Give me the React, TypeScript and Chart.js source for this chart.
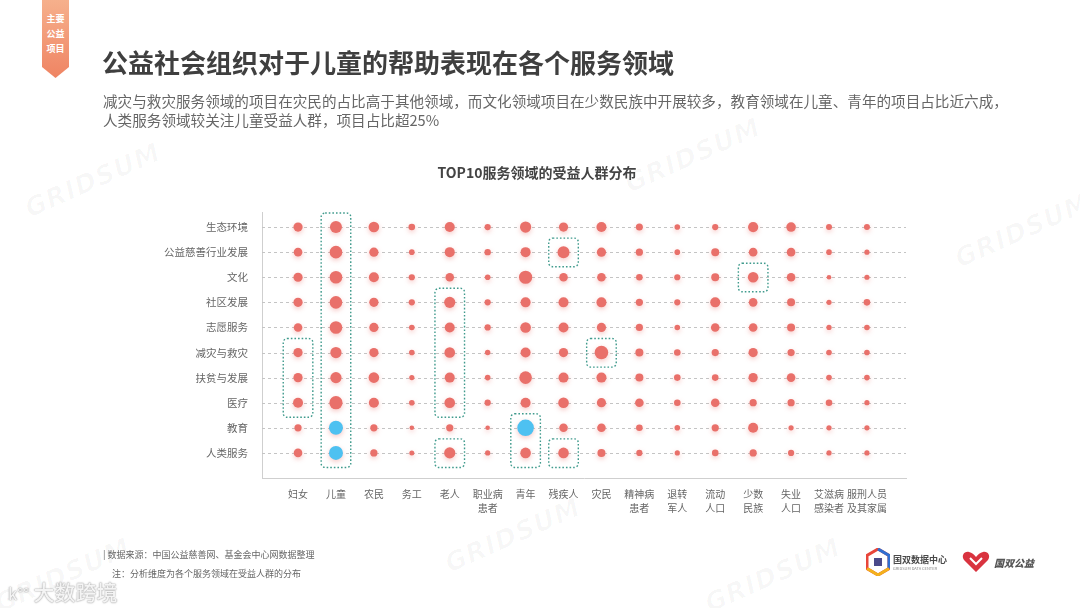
import React, { useEffect, useRef } from 'react';
import { Chart, registerables } from 'chart.js';

Chart.register(...registerables);

// ---- data ----
const services = ['生态环境', '公益慈善行业发展', '文化', '社区发展', '志愿服务', '减灾与救灾', '扶贫与发展', '医疗', '教育', '人类服务'];
const groups: string[][] = [
  ['妇女'], ['儿童'], ['农民'], ['务工'], ['老人'], ['职业病', '患者'], ['青年'], ['残疾人'],
  ['灾民'], ['精神病', '患者'], ['退转', '军人'], ['流动', '人口'], ['少数', '民族'], ['失业', '人口'],
  ['艾滋病', '感染者'], ['服刑人员', '及其家属'],
];
// share (%) of projects of each service field among beneficiary groups (estimated)
const shareEcology = [16.5, 23.5, 20, 10, 18.5, 9, 21.5, 16.5, 18.5, 11, 7.5, 9, 19, 17.5, 8.5, 8.5];
const sharePhilanthropy = [15, 25, 16.5, 7.5, 18.5, 9.5, 18.5, 23.5, 16.5, 11.5, 7.5, 13.5, 15, 15, 7.5, 6.5];
const shareCulture = [16.5, 25, 18.5, 9, 15, 7.5, 26.5, 15, 15, 10, 9, 13.5, 20, 15, 5, 6.5];
const shareCommunity = [16.5, 25, 16.5, 9, 21.5, 9, 18.5, 18.5, 18.5, 11.5, 9, 18.5, 15, 13.5, 6.5, 10];
const shareVolunteer = [15, 25, 16.5, 7.5, 18.5, 9, 20, 18.5, 16.5, 11.5, 7.5, 15, 15, 13.5, 6.5, 7.5];
const shareDisaster = [16.5, 21.5, 16.5, 7.5, 20, 7, 18.5, 16.5, 27.5, 13.5, 10, 11.5, 16.5, 11.5, 7.5, 7.5];
const sharePoverty = [16.5, 21.5, 20, 6.5, 18.5, 7.5, 25, 18.5, 18.5, 13.5, 10, 10, 16.5, 15, 7.5, 7.5];
const shareMedical = [18.5, 26.5, 18.5, 7.5, 20, 9, 18.5, 20, 16.5, 15, 10, 15, 11.5, 11.5, 10, 6.5];
const shareEducation = [11.5, 28.5, 11.5, 5, 11.5, 5, 35, 15, 15, 10, 7.5, 11.5, 18.5, 6.5, 6.5, 6.5];
const shareHumanService = [15, 28.5, 11.5, 6, 21.5, 6.5, 20, 20, 13.5, 9, 6.5, 10, 11.5, 9, 6.5, 6.5];
const shareRows = [shareEcology, sharePhilanthropy, shareCulture, shareCommunity, shareVolunteer, shareDisaster, sharePoverty, shareMedical, shareEducation, shareHumanService];

// highlighted (blue) cells: [groupIndex, serviceIndex]
const blueCells: number[][] = [[1, 8], [1, 9], [6, 8]];
// dotted highlight boxes: [groupIndex, fromService, toService]
const highlightBoxes: number[][] = [[1, 0, 9], [7, 1, 1], [12, 2, 2], [4, 3, 7], [0, 5, 7], [8, 5, 5], [6, 8, 9], [4, 9, 9], [7, 9, 9]];

const RED = '#E9706A';
const BLUE = '#4EC1F1';
const TEAL = '#3F9A8C';
const FONT = "'Noto Sans CJK SC', 'Noto Sans', sans-serif";

const radiusOf = (share: number) => 1.3 + share / 5;

const rowGridPlugin = {
  id: 'rowGrid',
  beforeDatasetsDraw(chart: any) {
    const { ctx, chartArea, scales } = chart;
    ctx.save();
    ctx.strokeStyle = '#c4c4c4';
    ctx.lineWidth = 1;
    ctx.setLineDash([3, 3]);
    services.forEach((_, i) => {
      const y = Math.round(scales.y.getPixelForValue(i)) + 0.5;
      ctx.beginPath();
      ctx.moveTo(chartArea.left, y);
      ctx.lineTo(chartArea.right, y);
      ctx.stroke();
    });
    ctx.restore();
  },
};

const shadowPlugin = {
  id: 'dotShadow',
  beforeDatasetDraw(chart: any) {
    const ctx = chart.ctx;
    ctx.save();
    ctx.shadowColor = 'rgba(235, 120, 115, 0.4)';
    ctx.shadowBlur = 5;
    ctx.shadowOffsetY = 2;
  },
  afterDatasetDraw(chart: any) {
    chart.ctx.restore();
  },
};

const boxPlugin = {
  id: 'highlightBoxes',
  afterDatasetsDraw(chart: any) {
    const { ctx, scales } = chart;
    ctx.save();
    ctx.strokeStyle = TEAL;
    ctx.lineWidth = 1.4;
    ctx.setLineDash([1.6, 2]);
    highlightBoxes.forEach(([c, r0, r1]) => {
      const x0 = scales.x.getPixelForValue(c - 0.39);
      const x1 = scales.x.getPixelForValue(c + 0.39);
      const y0 = scales.y.getPixelForValue(r0 - 0.56);
      const y1 = scales.y.getPixelForValue(r1 + 0.58);
      ctx.beginPath();
      if (ctx.roundRect) ctx.roundRect(x0, y0, x1 - x0, y1 - y0, 4);
      else ctx.rect(x0, y0, x1 - x0, y1 - y0);
      ctx.stroke();
    });
    ctx.restore();
  },
};

function Logos() {
  return (
    <div style={{ position: 'absolute', left: 866, top: 548, display: 'flex', alignItems: 'center' }}>
      <svg width="24" height="28" viewBox="0 0 24 28">
        <polygon points="12,1 23,7.5 23,20.5 12,27 1,20.5 1,7.5" fill="none" stroke="#e8463a" strokeWidth="3" />
        <polyline points="12,1 23,7.5 23,20.5" fill="none" stroke="#2f6fd1" strokeWidth="3" />
        <polyline points="23,20.5 12,27 1,20.5" fill="none" stroke="#f3b21c" strokeWidth="3" />
        <rect x="8" y="10" width="8" height="8" fill="#4a4a8a" />
      </svg>
      <div style={{ marginLeft: 3, lineHeight: 1 }}>
        <div style={{ fontSize: 9, fontWeight: 700, color: '#4a4a4a' }}>国双数据中心</div>
        <div style={{ fontSize: 4, color: '#888', marginTop: 2 }}>GRIDSUM DATA CENTER</div>
      </div>
      <svg width="30" height="24" viewBox="0 0 30 24" style={{ marginLeft: 14 }}>
        <path d="M15 22 L3 10 C0 6 3 1 8 2 C11 2.5 13 4.5 15 7 C17 4.5 19 2.5 22 2 C27 1 30 6 27 10 Z" fill="#d9333f" />
        <path d="M9 8 L15 14 L21 8" fill="none" stroke="#fff" strokeWidth="2" />
      </svg>
      <div style={{ marginLeft: 3, fontSize: 10, fontWeight: 900, color: '#555', fontStyle: 'italic' }}>国双公益</div>
    </div>
  );
}

export default function App() {
  const canvasRef = useRef<HTMLCanvasElement>(null);

  useEffect(() => {
    document.body.style.margin = '0';
    const points: { x: number; y: number; v: number }[] = [];
    shareRows.forEach((row, r) => row.forEach((v, c) => points.push({ x: c, y: r, v })));
    const isBlue = (p: any) => blueCells.some(([c, r]) => c === p.x && r === p.y);

    const chart = new Chart(canvasRef.current as HTMLCanvasElement, {
      type: 'scatter',
      data: {
        datasets: [
          {
            data: points as any,
            pointRadius: (ctx: any) => radiusOf(ctx.raw.v),
            pointHoverRadius: (ctx: any) => radiusOf(ctx.raw.v),
            pointBackgroundColor: (ctx: any) => (isBlue(ctx.raw) ? BLUE : RED),
            pointBorderWidth: 0,
            pointBorderColor: 'rgba(0,0,0,0)',
            clip: false as any,
          },
        ],
      },
      options: {
        responsive: false,
        animation: false,
        events: [],
        layout: { padding: { top: 212, right: 174, bottom: 0, left: 0 } },
        plugins: { legend: { display: false }, tooltip: { enabled: false }, title: { display: false } },
        scales: {
          x: {
            type: 'linear',
            min: -0.95,
            max: 16.03,
            afterBuildTicks: (axis: any) => {
              axis.ticks = groups.map((_, i) => ({ value: i }));
            },
            afterFit: (axis: any) => {
              axis.height = 130;
            },
            grid: { display: true, drawOnChartArea: false, drawTicks: false },
            border: { display: true, color: '#cfcfcf', width: 1 },
            ticks: {
              autoSkip: false,
              maxRotation: 0,
              padding: 9,
              color: '#666',
              font: { family: FONT, size: 10, lineHeight: 1.4 },
              callback: (v: any) => groups[v] ?? '',
            },
          },
          y: {
            type: 'linear',
            reverse: true,
            min: -0.6,
            max: 10,
            afterBuildTicks: (axis: any) => {
              axis.ticks = services.map((_, i) => ({ value: i }));
            },
            afterFit: (axis: any) => {
              axis.width = 262;
            },
            grid: { display: true, drawOnChartArea: false, drawTicks: false },
            border: { display: true, color: '#cfcfcf', width: 1 },
            ticks: {
              autoSkip: false,
              padding: 14,
              color: '#666',
              font: { family: FONT, size: 10.5 },
              callback: (v: any) => services[v] ?? '',
            },
          },
        },
      },
      plugins: [rowGridPlugin, shadowPlugin, boxPlugin],
    } as any);
    return () => chart.destroy();
  }, []);

  const watermark = (left: number, top: number) => (
    <div
      key={`${left}-${top}`}
      style={{
        position: 'absolute', left, top, transform: 'rotate(-24deg)', fontFamily: "'DejaVu Sans', sans-serif",
        fontWeight: 700, fontStyle: 'italic', fontSize: 26, color: 'rgba(0,0,0,0.028)', letterSpacing: 1,
        pointerEvents: 'none', whiteSpace: 'nowrap',
      }}
    >
      GRIDSUM
    </div>
  );

  return (
    <div style={{ position: 'relative', width: 1080, height: 608, overflow: 'hidden', background: '#fff', fontFamily: FONT }}>
      {[watermark(20, 165), watermark(620, 140), watermark(950, 215), watermark(-10, 560), watermark(440, 520), watermark(700, 560)]}
      <canvas ref={canvasRef} width={1080} height={608} style={{ position: 'absolute', left: 0, top: 0, width: 1080, height: 608 }} />

      {/* ribbon tag */}
      <div
        style={{
          position: 'absolute', left: 42, top: 0, width: 27, height: 78,
          background: 'linear-gradient(180deg, #f6b08c 0%, #ef8463 100%)',
          clipPath: 'polygon(0 0, 100% 0, 100% 86%, 50% 100%, 0 86%)',
          color: '#fff', fontSize: 9, fontWeight: 700, lineHeight: '15px', textAlign: 'center', paddingTop: 11, boxSizing: 'border-box',
        }}
      >
        <div>主要</div>
        <div>公益</div>
        <div>项目</div>
      </div>

      <div style={{ position: 'absolute', left: 102, top: 44, fontSize: 26, fontWeight: 700, color: '#3f3f3f', lineHeight: '36px', whiteSpace: 'nowrap' }}>
        公益社会组织对于儿童的帮助表现在各个服务领域
      </div>
      <div style={{ position: 'absolute', left: 103, top: 91, fontSize: 14.6, color: '#666', lineHeight: '19px', whiteSpace: 'nowrap' }}>
        <div>减灾与救灾服务领域的项目在灾民的占比高于其他领域，而文化领域项目在少数民族中开展较多，教育领域在儿童、青年的项目占比近六成，</div>
        <div>人类服务领域较关注儿童受益人群，项目占比超25%</div>
      </div>

      <div style={{ position: 'absolute', left: 0, width: 1074, top: 162, textAlign: 'center', fontSize: 14, fontWeight: 700, color: '#444', lineHeight: '20px' }}>
        TOP10服务领域的受益人群分布
      </div>

      <div style={{ position: 'absolute', left: 103, top: 545, fontSize: 9, color: '#666', lineHeight: '19px', whiteSpace: 'nowrap' }}>
        <div>| 数据来源：中国公益慈善网、基金会中心网数据整理</div>
        <div style={{ paddingLeft: 9 }}>注：分析维度为各个服务领域在受益人群的分布</div>
      </div>

      <Logos />

      <div
        style={{
          position: 'absolute', left: 8, top: 576, fontSize: 21, color: '#f4f4f4', fontWeight: 500,
          textShadow: '0 0 1px #999, 0 0 2px #aaa', whiteSpace: 'nowrap',
        }}
      >
        <span style={{ fontSize: 16, marginRight: 4 }}>k°°</span>大数跨境
      </div>
    </div>
  );
}
